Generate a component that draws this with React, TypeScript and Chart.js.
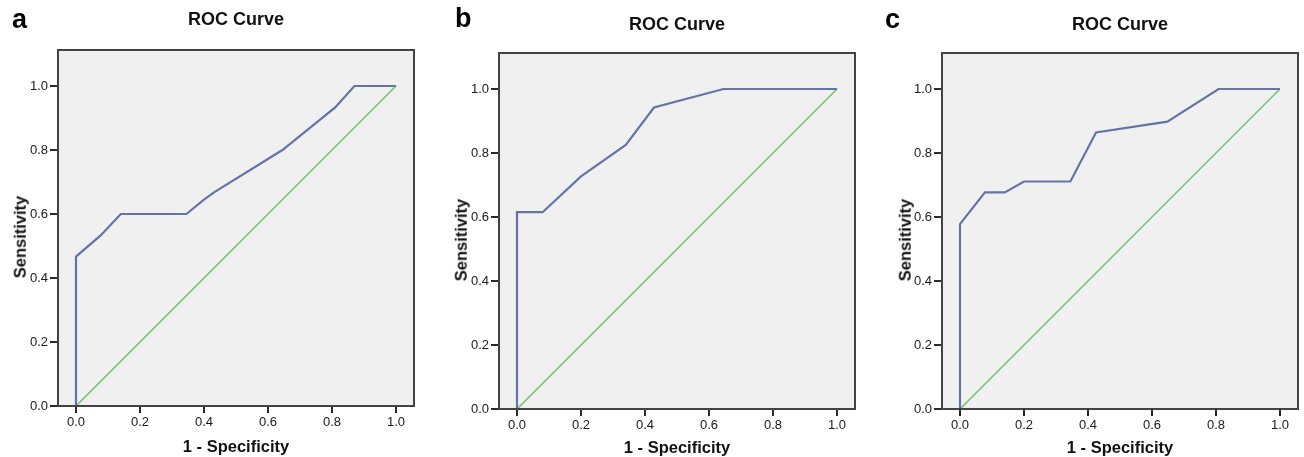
import React, { useEffect, useRef } from "react";
import { Chart, registerables } from "chart.js";

Chart.register(...registerables);

// ---------- data ----------
const tickValues = [0, 0.2, 0.4, 0.6, 0.8, 1.0];

const fprA = [0, 0, 0.077, 0.14, 0.345, 0.4, 0.43, 0.645, 0.81, 0.87, 1.0];
const tprA = [0, 0.467, 0.533, 0.6, 0.6, 0.645, 0.667, 0.8, 0.933, 1.0, 1.0];

const fprB = [0, 0, 0.08, 0.2, 0.34, 0.428, 0.645, 1.0];
const tprB = [0, 0.615, 0.615, 0.727, 0.825, 0.942, 1.0, 1.0];

const fprC = [0, 0, 0.078, 0.14, 0.2, 0.345, 0.425, 0.648, 0.808, 1.0];
const tprC = [0, 0.578, 0.677, 0.677, 0.711, 0.711, 0.864, 0.898, 1.0, 1.0];

const refX = [0, 1];
const refY = [0, 1];

const panelLetters = ["a", "b", "c"];
const chartTitle = "ROC Curve";
const xAxisTitle = "1 - Specificity";
const yAxisTitle = "Sensitivity";

const panelSeries = [
  { fpr: fprA, tpr: tprA },
  { fpr: fprB, tpr: tprB },
  { fpr: fprC, tpr: tprC },
];

// ---------- layout / style ----------
const FONT = '"Liberation Sans", Arial, sans-serif';
const PLOT = 356;
const PAD_LEFT = 58;
const PAD_TOP = 50;
const PAD_RIGHT = 6;
const X_AXIS_H = 40;
const X_MIN = -18 / 320;
const X_MAX = 1 + 18 / 320;
const Y_MIN = 0;
const Y_MAX = PLOT / 320;

const panelLayout = [
  { left: 58, top: 50, letterX: 12, letterTop: 6, titleTop: 9.8, yTitleX: 19.5, yTitleY: 236.7, xTitleTop: 437.5 },
  { left: 499, top: 53, letterX: 455, letterTop: 5, titleTop: 14.8, yTitleX: 461.3, yTitleY: 240, xTitleTop: 439 },
  { left: 942, top: 53, letterX: 885, letterTop: 6, titleTop: 14.8, yTitleX: 904.8, yTitleY: 240, xTitleTop: 439 },
];

const framePlugin = {
  id: "frame",
  beforeDraw(chart: any) {
    const { ctx, chartArea } = chart;
    const { left, top, right, bottom } = chartArea;
    ctx.save();
    ctx.fillStyle = "#f0f0f0";
    ctx.fillRect(left, top, right - left, bottom - top);
    ctx.restore();
  },
  afterDraw(chart: any) {
    const { ctx, chartArea } = chart;
    const { left, top, right, bottom } = chartArea;
    ctx.save();
    ctx.strokeStyle = "#434343";
    ctx.lineWidth = 2;
    ctx.strokeRect(left, top, right - left, bottom - top);
    ctx.restore();
  },
};

function RocPanel({ index }: { index: number }) {
  const ref = useRef<HTMLCanvasElement | null>(null);
  const lay = panelLayout[index];
  const series = panelSeries[index];

  useEffect(() => {
    if (!ref.current) return;
    const curve = series.fpr.map((x, i) => ({ x, y: series.tpr[i] }));
    const diag = refX.map((x, i) => ({ x, y: refY[i] }));
    const tickFont = { family: FONT, size: 13 };
    const chart = new Chart(ref.current, {
      type: "scatter",
      data: {
        datasets: [
          {
            data: curve,
            showLine: true,
            borderColor: "#6574a6",
            borderWidth: 2.2,
            pointRadius: 0,
            tension: 0,
            fill: false,
          },
          {
            data: diag,
            showLine: true,
            borderColor: "#72c272",
            borderWidth: 1.6,
            pointRadius: 0,
            tension: 0,
            fill: false,
          },
        ],
      } as any,
      options: {
        animation: false,
        responsive: true,
        maintainAspectRatio: false,
        events: [],
        layout: { padding: { left: 0, top: PAD_TOP, right: PAD_RIGHT, bottom: 0 } },
        plugins: {
          legend: { display: false },
          title: { display: false },
          tooltip: { enabled: false },
        },
        scales: {
          x: {
            type: "linear",
            min: X_MIN,
            max: X_MAX,
            afterBuildTicks: (s: any) => {
              s.ticks = tickValues.map((v) => ({ value: v }));
            },
            afterFit: (s: any) => {
              s.height = X_AXIS_H;
            },
            grid: {
              display: true,
              drawOnChartArea: false,
              drawTicks: true,
              tickLength: 7,
              color: "#2a2a2a",
              lineWidth: 2,
            },
            border: { display: false },
            ticks: {
              padding: 2,
              color: "#1a1a1a",
              font: tickFont,
              maxRotation: 0,
              autoSkip: false,
              callback: (v: any) => Number(v).toFixed(1),
            },
          },
          y: {
            type: "linear",
            min: Y_MIN,
            max: Y_MAX,
            afterBuildTicks: (s: any) => {
              s.ticks = tickValues.map((v) => ({ value: v }));
            },
            afterFit: (s: any) => {
              s.width = PAD_LEFT;
            },
            grid: {
              display: true,
              drawOnChartArea: false,
              drawTicks: true,
              tickLength: 8,
              color: "#2a2a2a",
              lineWidth: 2,
            },
            border: { display: false },
            ticks: {
              padding: 2,
              color: "#1a1a1a",
              font: tickFont,
              autoSkip: false,
              callback: (v: any) => Number(v).toFixed(1),
            },
          },
        },
      } as any,
      plugins: [framePlugin],
    });
    return () => chart.destroy();
  }, [index]);

  const boxW = PAD_LEFT + PLOT + PAD_RIGHT;
  const boxH = PAD_TOP + PLOT + X_AXIS_H;
  const centerX = lay.left + PLOT / 2;

  return (
    <>
      <div
        style={{
          position: "absolute",
          left: lay.left - PAD_LEFT,
          top: lay.top - PAD_TOP,
          width: boxW,
          height: boxH,
        }}
      >
        <canvas ref={ref} />
      </div>
      <div
        style={{
          position: "absolute",
          left: lay.letterX,
          top: lay.letterTop,
          fontSize: 27,
          lineHeight: 1,
          fontWeight: "bold",
          color: "#000",
        }}
      >
        {panelLetters[index]}
      </div>
      <div
        style={{
          position: "absolute",
          left: centerX,
          top: lay.titleTop,
          transform: "translateX(-50%)",
          fontSize: 18,
          lineHeight: 1,
          fontWeight: "bold",
          color: "#111",
          whiteSpace: "nowrap",
        }}
      >
        {chartTitle}
      </div>
      <div
        style={{
          position: "absolute",
          left: centerX,
          top: lay.xTitleTop,
          transform: "translateX(-50%)",
          fontSize: 16.5,
          lineHeight: 1,
          fontWeight: "bold",
          color: "#111",
          whiteSpace: "nowrap",
        }}
      >
        {xAxisTitle}
      </div>
      <div
        style={{
          position: "absolute",
          left: lay.yTitleX,
          top: lay.yTitleY,
          transform: "translate(-50%, -50%) rotate(-90deg)",
          fontSize: 16.5,
          lineHeight: 1,
          fontWeight: "bold",
          color: "#111",
          whiteSpace: "nowrap",
        }}
      >
        {yAxisTitle}
      </div>
    </>
  );
}

export default function App() {
  return (
    <div
      style={{
        position: "absolute",
        left: 0,
        top: 0,
        width: 1304,
        height: 457,
        overflow: "hidden",
        background: "#ffffff",
        fontFamily: FONT,
      }}
    >
      {panelLetters.map((_, i) => (
        <RocPanel key={i} index={i} />
      ))}
    </div>
  );
}
